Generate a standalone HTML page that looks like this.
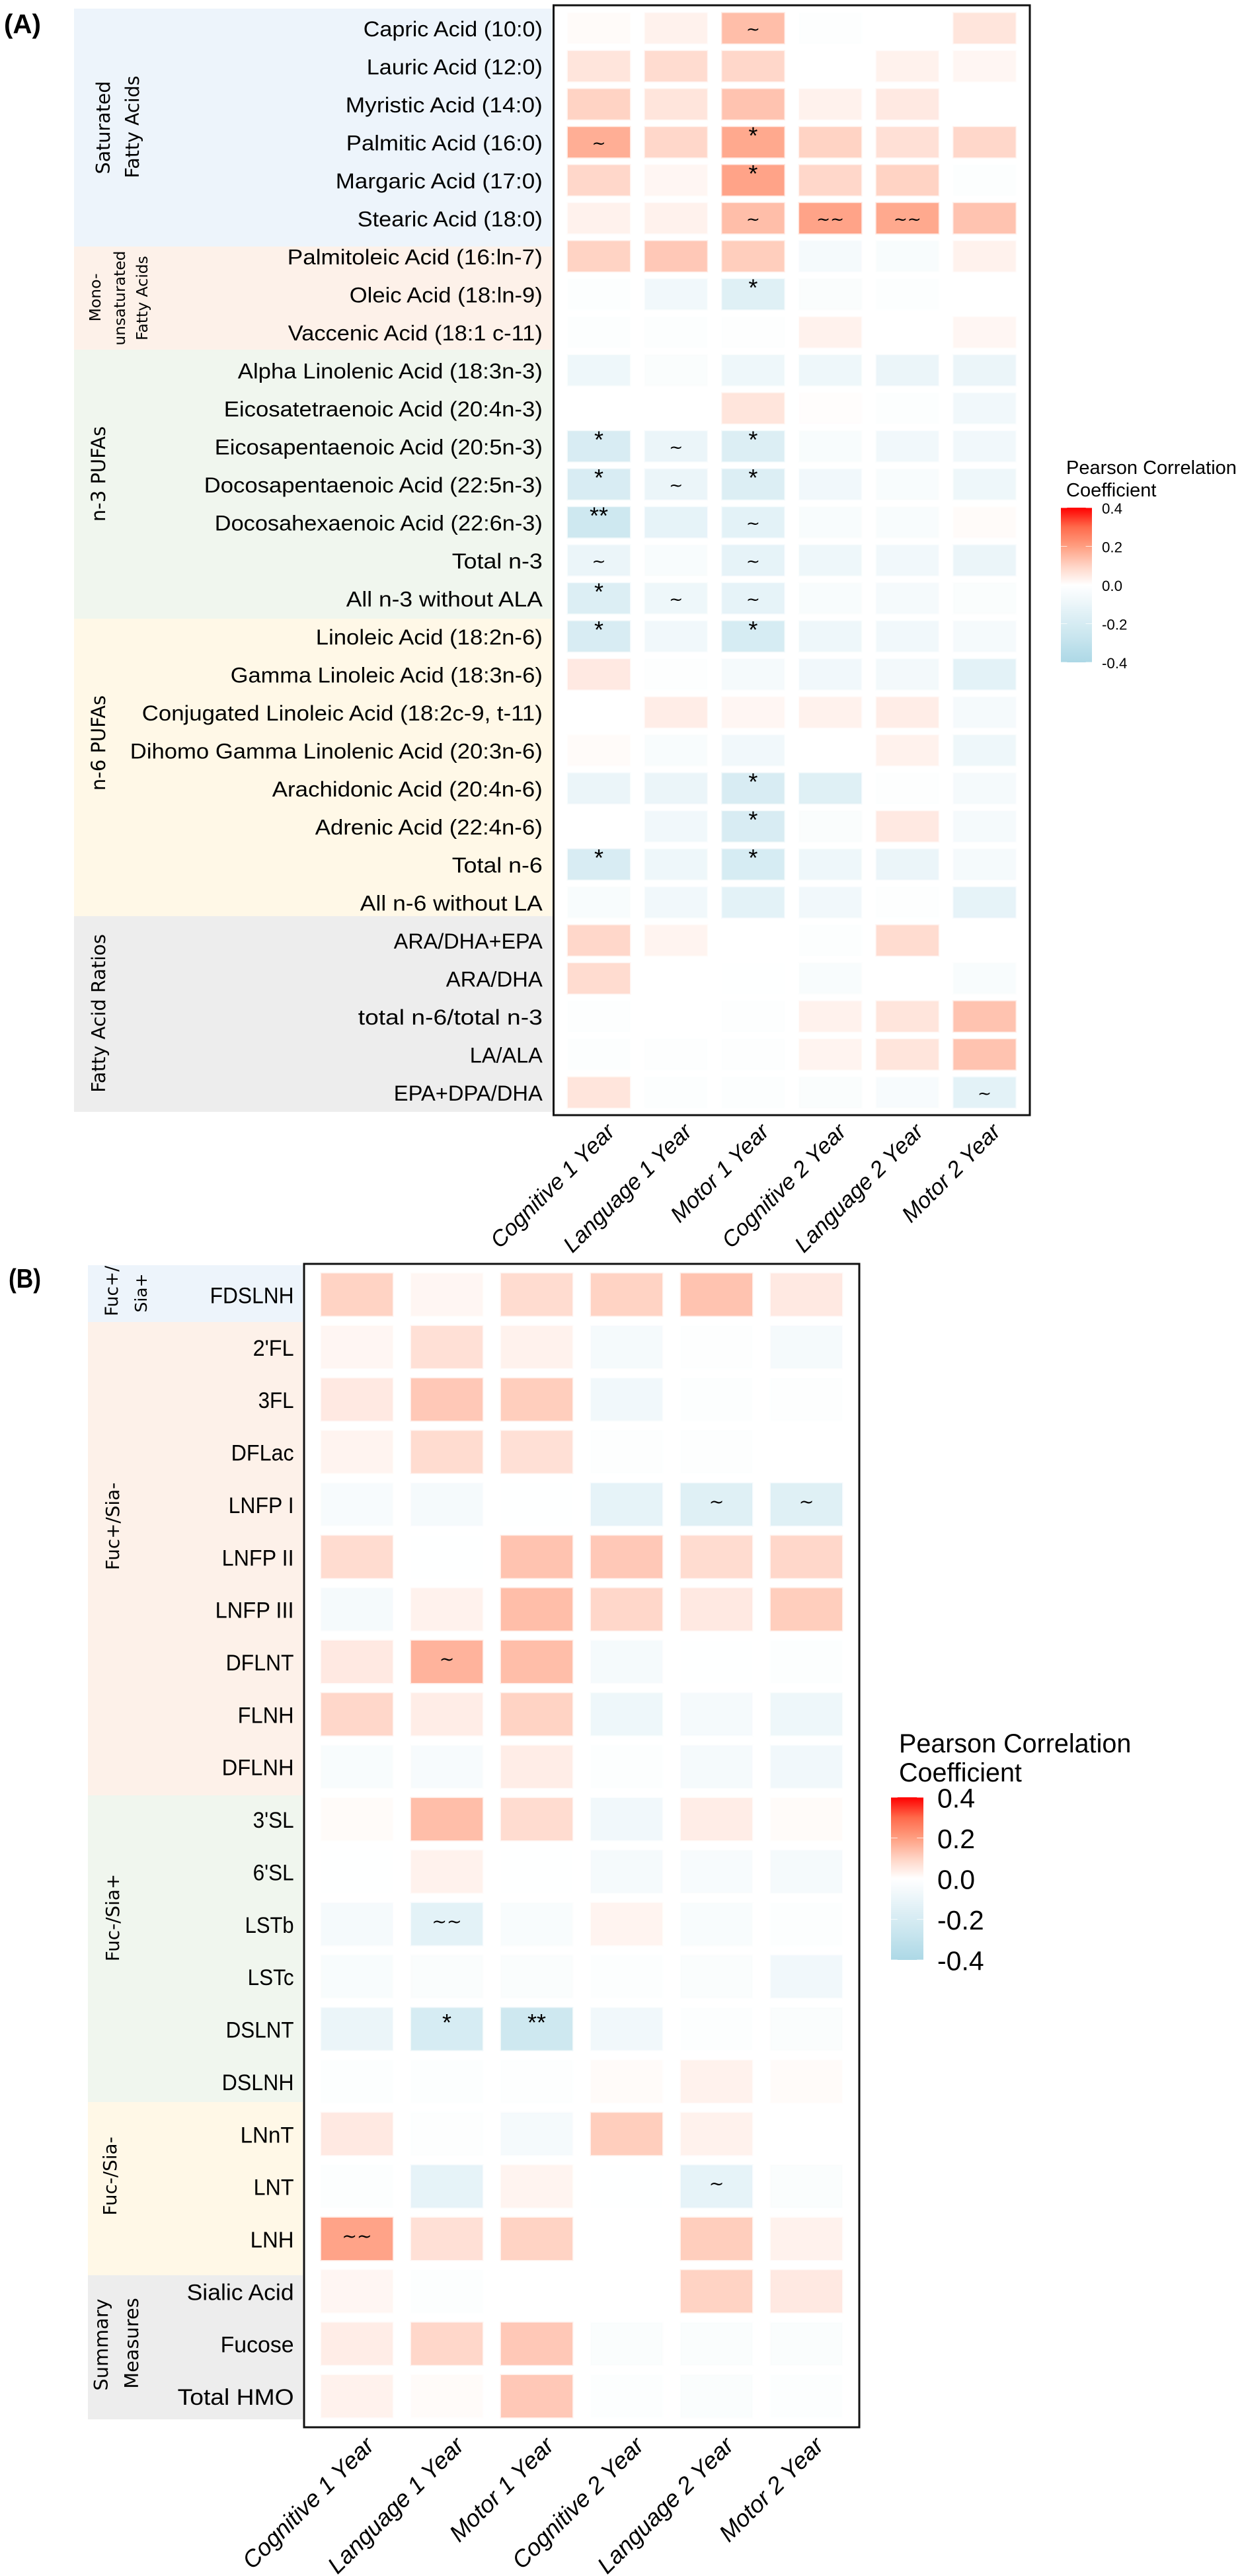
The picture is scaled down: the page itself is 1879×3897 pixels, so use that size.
<!DOCTYPE html>
<html lang="en">
<head>
<meta charset="utf-8">
<title>Pearson correlation heatmaps</title>
<style>
html,body{margin:0;padding:0;background:#fff}
svg{display:block}
text{font-family:"Liberation Sans",sans-serif;fill:#000}
.grp{font-family:"DejaVu Sans",sans-serif;text-anchor:middle}
</style>
</head>
<body>
<svg id="fig" xmlns="http://www.w3.org/2000/svg" width="1879" height="3897" viewBox="0 0 1879 3897">
  <defs>
    <linearGradient id="legend-gradient" x1="0" y1="0" x2="0" y2="1"></linearGradient>
  </defs>
  <g id="group-bands">
    <rect x="112" y="13" width="724" height="360" fill="#edf4fb"/>
    <rect x="112" y="373" width="724" height="156" fill="#fdf1e9"/>
    <rect x="112" y="529" width="724" height="407" fill="#f0f6ee"/>
    <rect x="112" y="936" width="724" height="450" fill="#fff8e7"/>
    <rect x="112" y="1386" width="724" height="296" fill="#ededed"/>
    <rect x="133" y="1914" width="325" height="86" fill="#edf4fb"/>
    <rect x="133" y="2000" width="325" height="716" fill="#fdf1e9"/>
    <rect x="133" y="2716" width="325" height="464" fill="#f0f6ee"/>
    <rect x="133" y="3180" width="325" height="262" fill="#fff8e7"/>
    <rect x="133" y="3442" width="325" height="218" fill="#ededed"/>
  </g>
  <text x="6" y="50" font-size="41" font-weight="bold" textLength="56" lengthAdjust="spacingAndGlyphs">(A)</text>
  <text x="13" y="1948" font-size="41" font-weight="bold" textLength="49" lengthAdjust="spacingAndGlyphs">(B)</text>

  <g>
    <text class="grp" font-size="28.5" transform="translate(166,193) rotate(-90)">Saturated</text>
    <text class="grp" font-size="28.5" transform="translate(210,192) rotate(-90)">Fatty Acids</text>
    <text class="grp" font-size="23.5" transform="translate(152,450) rotate(-90)">Mono-</text>
    <text class="grp" font-size="23.5" transform="translate(189,451) rotate(-90)">unsaturated</text>
    <text class="grp" font-size="23.5" transform="translate(223,451) rotate(-90)">Fatty Acids</text>
    <text class="grp" font-size="29" transform="translate(159,717) rotate(-90)">n-3 PUFAs</text>
    <text class="grp" font-size="29" transform="translate(159,1124) rotate(-90)">n-6 PUFAs</text>
    <text class="grp" font-size="28.8" transform="translate(159,1533) rotate(-90)">Fatty Acid Ratios</text>
    <text class="grp" font-size="26.5" transform="translate(178,1953) rotate(-90)">Fuc+/</text>
    <text class="grp" font-size="25" transform="translate(222,1956) rotate(-90)">Sia+</text>
    <text class="grp" font-size="27.8" transform="translate(180,2309) rotate(-90)">Fuc+/Sia-</text>
    <text class="grp" font-size="27.8" transform="translate(180,2901) rotate(-90)">Fuc-/Sia+</text>
    <text class="grp" font-size="27.8" transform="translate(176,3292) rotate(-90)">Fuc-/Sia-</text>
    <text class="grp" font-size="28.8" transform="translate(163,3547) rotate(-90)">Summary</text>
    <text class="grp" font-size="28.8" transform="translate(209,3545) rotate(-90)">Measures</text>
  </g>
</svg>

<script>
const outcomes = ["Cognitive 1 Year","Language 1 Year","Motor 1 Year","Cognitive 2 Year","Language 2 Year","Motor 2 Year"];

const fattyAcidLabels = ["Capric Acid (10:0)","Lauric Acid (12:0)","Myristic Acid (14:0)","Palmitic Acid (16:0)","Margaric Acid (17:0)","Stearic Acid (18:0)","Palmitoleic Acid (16:ln-7)","Oleic Acid (18:ln-9)","Vaccenic Acid (18:1 c-11)","Alpha Linolenic Acid (18:3n-3)","Eicosatetraenoic Acid (20:4n-3)","Eicosapentaenoic Acid (20:5n-3)","Docosapentaenoic Acid (22:5n-3)","Docosahexaenoic Acid (22:6n-3)","Total n-3","All n-3 without ALA","Linoleic Acid (18:2n-6)","Gamma Linoleic Acid (18:3n-6)","Conjugated Linoleic Acid (18:2c-9, t-11)","Dihomo Gamma Linolenic Acid (20:3n-6)","Arachidonic Acid (20:4n-6)","Adrenic Acid (22:4n-6)","Total n-6","All n-6 without LA","ARA/DHA+EPA","ARA/DHA","total n-6/total n-3","LA/ALA","EPA+DPA/DHA"];

const fattyAcidValues = [
[.01,.03,.14,-.01,0,.06],
[.06,.08,.09,0,.03,.02],
[.10,.06,.13,.03,.05,0],
[.17,.09,.18,.10,.07,.09],
[.09,.02,.19,.09,.10,-.015],
[.03,.03,.14,.19,.18,.13],
[.10,.12,.11,-.05,-.035,.03],
[-.015,-.07,-.155,-.025,-.015,0],
[-.015,-.015,-.01,.03,0,.02],
[-.085,-.025,-.085,-.085,-.10,-.10],
[0,0,.06,.005,-.015,-.07],
[-.19,-.10,-.17,-.035,-.07,-.07],
[-.19,-.10,-.17,-.07,-.035,-.085],
[-.24,-.12,-.135,-.035,-.035,.01],
[-.10,-.035,-.12,-.085,-.07,-.10],
[-.17,-.085,-.12,-.035,-.05,-.025],
[-.19,-.07,-.2,-.085,-.07,-.05],
[.05,-.01,-.05,-.07,-.06,-.135],
[0,.04,.02,.03,.04,-.05],
[.01,-.035,-.07,0,.03,-.085],
[-.10,-.10,-.19,-.155,-.01,-.05],
[0,-.07,-.19,-.025,.05,-.05],
[-.19,-.085,-.2,-.085,-.10,-.05],
[-.035,-.07,-.135,-.07,-.01,-.12],
[.09,.025,0,-.015,.08,0],
[.08,0,-.005,-.035,0,-.035],
[-.01,0,-.01,.03,.06,.13],
[-.015,-.01,-.01,.025,.06,.13],
[.06,-.015,-.015,-.025,-.04,-.135]
];

const fattyAcidMarks = [
[0,2,"~"],[3,0,"~"],[3,2,"*"],[4,2,"*"],[5,2,"~"],[5,3,"~~"],[5,4,"~~"],[7,2,"*"],
[11,0,"*"],[11,1,"~"],[11,2,"*"],[12,0,"*"],[12,1,"~"],[12,2,"*"],[13,0,"**"],[13,2,"~"],
[14,0,"~"],[14,2,"~"],[15,0,"*"],[15,1,"~"],[15,2,"~"],[16,0,"*"],[16,2,"*"],[20,2,"*"],
[21,2,"*"],[22,0,"*"],[22,2,"*"],[28,5,"~"]
];

const hmoLabels = ["FDSLNH","2'FL","3FL","DFLac","LNFP I","LNFP II","LNFP III","DFLNT","FLNH","DFLNH","3'SL","6'SL","LSTb","LSTc","DSLNT","DSLNH","LNnT","LNT","LNH","Sialic Acid","Fucose","Total HMO"];

const hmoValues = [
[.10,.02,.08,.10,.13,.05],
[.02,.07,.03,-.05,-.01,-.05],
[.05,.12,.11,-.07,-.015,-.01],
[.025,.08,.07,-.01,-.01,0],
[-.04,-.05,-.005,-.12,-.155,-.155],
[.08,-.005,.13,.12,.08,.09],
[-.05,.03,.14,.09,.05,.11],
[.05,.16,.14,-.05,-.005,-.015],
[.09,.04,.10,-.085,-.05,-.085],
[-.035,-.04,.04,-.015,-.05,-.07],
[.01,.14,.08,-.07,.04,.01],
[-.005,.03,-.005,-.05,-.04,-.05],
[-.05,-.135,-.035,.025,-.035,-.015],
[-.035,-.025,-.025,-.015,-.025,-.07],
[-.10,-.2,-.24,-.07,-.015,-.025],
[-.015,-.015,-.01,.01,.03,.01],
[.05,-.01,-.05,.11,.03,0],
[-.015,-.12,.025,-.005,-.12,-.025],
[.19,.07,.10,0,.11,.03],
[.02,-.015,0,0,.10,.05],
[.04,.09,.12,-.025,-.025,-.025],
[.03,.01,.12,-.015,-.025,-.015]
];

const hmoMarks = [
[4,4,"~"],[4,5,"~"],[7,1,"~"],[12,1,"~~"],[14,1,"*"],[14,2,"**"],[17,4,"~"],[18,0,"~~"]
];

const legendTicks = [0.4,0.2,0.0,-0.2,-0.4];
const legendTitleLines = ["Pearson Correlation","Coefficient"];

/* Typesetting only: the reference's narrower font needs each row label fitted to its own width. */
const fattyAcidLabelFit = [271,266,298,297,313,280,386,292,385,461,482,496,512,496,137,297,343,472,606,624,409,344,137,276,225,146,279,110,225];
const hmoLabelFit = [127,62,54,95,99,109,119,103,85,109,62,62,74,70,103,109,81,61,66,162,111,176];

const NS = "http://www.w3.org/2000/svg";
const svg = document.getElementById("fig");

function hex(c){return [parseInt(c.slice(1,3),16),parseInt(c.slice(3,5),16),parseInt(c.slice(5,7),16)];}
function mix(a,b,t){const p=hex(a),q=hex(b);return "rgb("+p.map((v,i)=>Math.round(v+(q[i]-v)*t)).join(",")+")";}
function fillFor(v){
  const t=Math.min(1,Math.abs(v)/0.4);
  if(v<0) return mix("#ffffff","#add8e6",t);
  const ramp=["#ffffff","#ffd3c4","#ff9e81","#ff6a4b","#ff0000"];
  const k=Math.min(3,Math.floor(t*4));
  return mix(ramp[k],ramp[k+1],t*4-k);
}
function make(tag,attrs,parent){
  const el=document.createElementNS(NS,tag);
  for(const k in attrs) el.setAttribute(k,attrs[k]);
  parent.appendChild(el);
  return el;
}

function drawPanel(p){
  const xPos=c=>p.x0+c*p.xStep;
  const yPos=r=>p.y0+r*p.yStep;
  const g=make("g",{},svg);
  
  
  p.values.forEach((row,r)=>{
    const lab=make("text",{x:p.labelX,y:yPos(r)+p.labelDy,"text-anchor":"end","font-size":p.labelSize,textLength:p.fit[r],lengthAdjust:"spacingAndGlyphs"},g);
    
    
    lab.textContent=p.rows[r];
    row.forEach((v,c)=>{
      const tile=make("rect",{x:xPos(c)-p.tileW/2,y:yPos(r)-p.tileH/2,width:p.tileW,height:p.tileH,fill:fillFor(v),stroke:fillFor(v),"stroke-opacity":0.3,"stroke-width":3},g);
      
      
    });
  });
  p.marks.forEach(m=>{
    const star=m[2].indexOf("*")>=0;
    const t=make("text",{x:xPos(m[1]),y:yPos(m[0])+(star?p.starDy:p.tildeDy),"text-anchor":"middle","font-size":star?p.starSize:p.tildeSize,style:star?"":'font-family:"DejaVu Sans",sans-serif'},g);
    
    
    t.textContent=m[2];
  });
  const frame=make("rect",{x:p.fx,y:p.fy,width:p.fw,height:p.fh,fill:"none",stroke:"#111","stroke-width":3},g);
  
  
  outcomes.forEach((name,c)=>{
    const x=xPos(c)+p.tickDx, y=p.tickY;
    const t=make("text",{"text-anchor":"end","font-size":p.tickSize,"font-style":"italic",transform:"translate("+x+","+y+") rotate(-45)"},g);
    
    
    t.textContent=name;
  });
}

drawPanel({name:"panel-a-heatmap",rows:fattyAcidLabels,fit:fattyAcidLabelFit,values:fattyAcidValues,marks:fattyAcidMarks,
  x0:906,xStep:116.7,y0:42.7,yStep:57.5,tileW:94,tileH:46,labelX:820.8,labelDy:12.5,labelSize:32,
  starSize:36,starDy:2.5,tildeSize:25,tildeDy:10,fx:837.5,fy:8,fw:720.5,fh:1679,tickDx:26,tickY:1714,tickSize:34});
drawPanel({name:"panel-b-heatmap",rows:hmoLabels,fit:hmoLabelFit,values:hmoValues,marks:hmoMarks,
  x0:540,xStep:136,y0:1958.5,yStep:79.36,tileW:108,tileH:64,labelX:444.6,labelDy:13,labelSize:34,
  starSize:36,starDy:2.5,tildeSize:27,tildeDy:5,fx:460,fy:1912,fw:840,fh:1760,tickDx:28,tickY:3702,tickSize:36});

const grad=document.getElementById("legend-gradient");
for(let i=0;i<=40;i++){
  const v=0.4-i*0.02;
  const s=document.createElementNS(NS,"stop");
  s.setAttribute("offset",(i/40));
  s.setAttribute("stop-color",fillFor(Math.abs(v)<0.012?0:v));
  grad.appendChild(s);
}

function drawLegend(l){
  const g=make("g",{},svg);
  
  
  const yPos=v=>l.zeroY-v*l.pxPerUnit;
  legendTitleLines.forEach((line,i)=>{
    const t=make("text",{x:l.titleX,y:l.titleY+i*l.titleGap,"font-size":l.titleSize},g);
    
    
    t.textContent=line;
  });
  const bar=make("rect",{x:l.barX,y:yPos(0.4),width:l.barW,height:yPos(-0.4)-yPos(0.4),fill:"url(#legend-gradient)"},g);
  
  
  legendTicks.forEach(v=>{
    const y=yPos(v);
    [l.barX,l.barX+l.barW-l.barW*0.2].forEach(x=>{
      const d=make("rect",{x:x,y:y-0.5,width:l.barW*0.2,height:1,fill:"#fff",opacity:0.75},g);
      
      
    });
    const t=make("text",{x:l.labelX,y:y+l.labelDy,"font-size":l.labelSize},g);
    
    
    t.textContent=v.toFixed(1);
  });
}

drawLegend({name:"legend-panel-a",zeroY:885,pxPerUnit:292.5,barX:1605,barW:47,titleX:1613,titleY:717,titleGap:34,titleSize:29,labelX:1667,labelDy:9,labelSize:22.3});
drawLegend({name:"legend-panel-b",zeroY:2842,pxPerUnit:307.5,barX:1348,barW:49,titleX:1360,titleY:2651,titleGap:44,titleSize:39.5,labelX:1418,labelDy:15.5,labelSize:41});
</script>
</body>
</html>
